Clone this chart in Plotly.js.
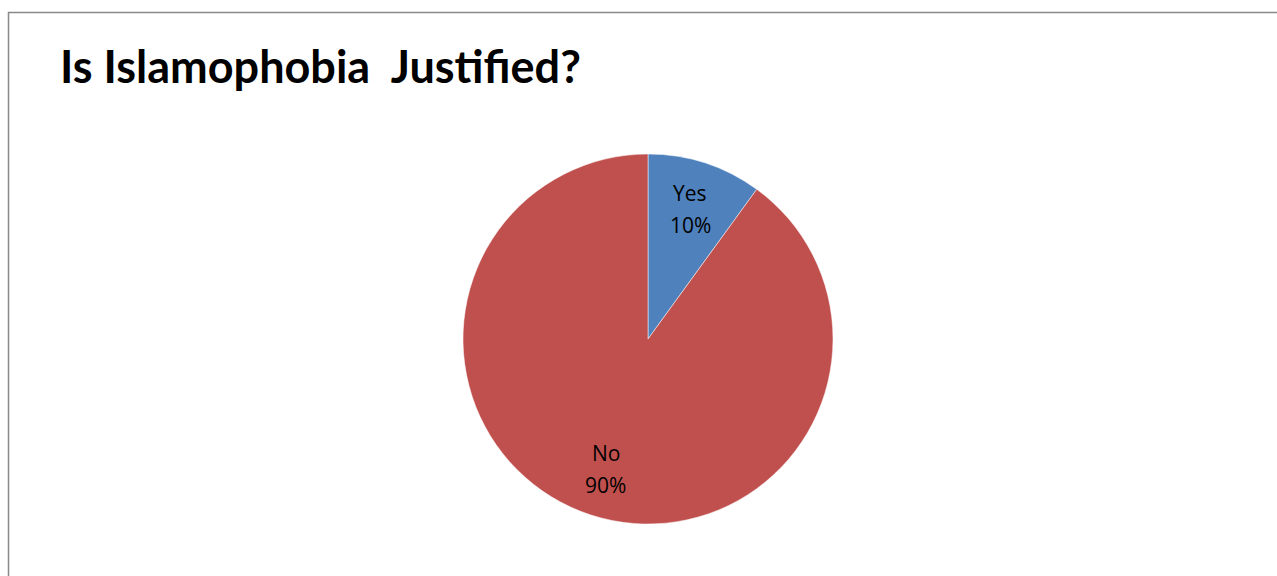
<!DOCTYPE html>
<html>
<head>
<meta charset="utf-8">
<script src="https://cdn.plot.ly/plotly-3.0.1.min.js"></script>
<style>html,body{margin:0;padding:0;background:#fff;}#chart{width:1277px;height:576px;}</style>
</head>
<body>
<div id="chart"></div>
<script>
var labels = ["Yes", "No"];
var values = [10, 90];
var colors = ["#4F81BD", "#C0504D"];
var chartTitle = "Is Islamophobia  Justified?";

var W = 1277, H = 576;
var cx = 648, cy = 339, R = 185;
var dom = {x: [(cx - R) / W, (cx + R) / W], y: [(H - cy - R) / H, (H - cy + R) / H]};

var data = [{
  type: "pie",
  labels: labels,
  values: values,
  marker: {colors: colors, line: {color: "#ffffff", width: 0.5}},
  sort: false,
  direction: "clockwise",
  rotation: 0,
  textinfo: "none",
  hoverinfo: "none",
  domain: dom
}];

// Data labels placed along each slice's bisector (like the spreadsheet default)
var total = values.reduce(function (a, b) { return a + b; }, 0);
var annotations = [];
var acc = 0;
var lblFont = {family: "Open Sans, sans-serif", size: 21, color: "#000000"};
for (var i = 0; i < values.length; i++) {
  var frac = values[i] / total;
  var mid = (acc + frac / 2) * 2 * Math.PI; // clockwise from top
  acc += frac;
  var rr = 0.74 * R;
  var px = cx + rr * Math.sin(mid);
  var py = cy - rr * Math.cos(mid);
  var lines = [labels[i], Math.round(frac * 100) + "%"];
  for (var k = 0; k < 2; k++) {
    annotations.push({
      xref: "paper", yref: "paper",
      x: px / W, y: 1 - py / H,
      xanchor: "center", yanchor: "middle",
      yshift: k === 0 ? 16 : -16,
      showarrow: false,
      text: lines[k],
      font: lblFont
    });
  }
}

var layout = {
  width: W, height: H,
  margin: {l: 0, r: 0, t: 0, b: 0},
  paper_bgcolor: "#ffffff",
  showlegend: false,
  title: {
    text: "<b>" + chartTitle + "</b>",
    x: 60 / W, xanchor: "left", xref: "paper",
    y: 1 - 67 / H, yanchor: "middle", yref: "paper",
    font: {family: "Lato, sans-serif", size: 45, color: "#000000"}
  },
  annotations: annotations,
  shapes: [{
    type: "rect", xref: "paper", yref: "paper",
    x0: 8.5 / W, x1: 1.05, y0: -0.05, y1: 1 - 12.5 / H,
    line: {color: "#898989", width: 1.5}, fillcolor: "rgba(0,0,0,0)"
  }]
};

Plotly.newPlot("chart", data, layout, {displayModeBar: false, staticPlot: true});
</script>
</body>
</html>
